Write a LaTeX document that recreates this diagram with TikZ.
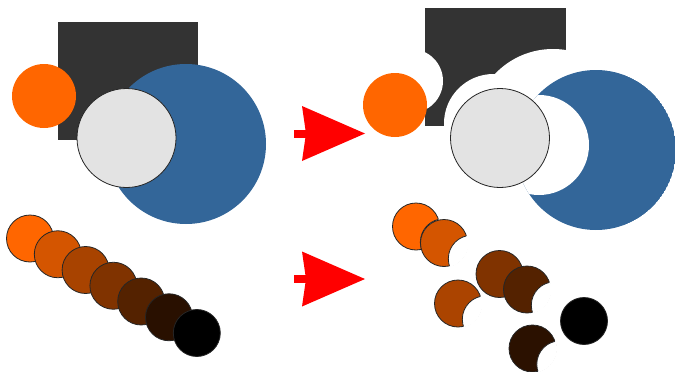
\documentclass[tikz,border=0pt]{standalone}
\usetikzlibrary{arrows.meta}
\definecolor{inkdark}{HTML}{333333}
\definecolor{inkorange}{HTML}{FF6600}
\definecolor{inkblue}{HTML}{336699}
\definecolor{inkgray}{HTML}{E3E3E3}
\begin{document}
\begin{tikzpicture}[x=1pt, y=-1pt,
		outlined/.style={draw=black!85, line width=0.8pt},
		bigarrow/.style={red, line width=8pt, -{Stealth[length=63pt, width=55pt, inset=4pt, line width=0pt]}}]
	\useasboundingbox (0,0) rectangle (675,372);

	% Original stack
	\fill[inkdark] (58,22) rectangle (198,140);
	\fill[inkorange] (44,96) circle (32pt);
	\fill[inkblue] (186,144) circle (80pt);
	\draw[outlined, fill=inkgray] (126.5,138) circle (49.5pt);

	% Original chain of beads
	\foreach \i in {0,...,6} {
		\pgfmathtruncatemacro{\pct}{100-100*\i/6}
		\draw[outlined, fill=inkorange!\pct!black] (30+27.8*\i, 238.5+15.75*\i) circle (23.5pt);
	}

	% Arrows
	\coordinate (topfrom) at (294,133.5);
	\coordinate (topto) at (365,133.5);
	\draw[bigarrow] (topfrom) -- (topto);
	\coordinate (lowfrom) at (294,279);
	\coordinate (lowto) at (365,279);
	\draw[bigarrow] (lowfrom) -- (lowto);

	% Knocked-out rectangle
	\begin{scope}
		\clip (425,7.5) rectangle (566,126);
		\fill[inkdark] (425,7.5) rectangle (566,126);
		\fill[white] (411,81) circle (32pt) (553,129) circle (80pt) (493.5,123.5) circle (49.5pt);
	\end{scope}

	% Knocked-out circles
	\fill[inkorange] (395,105) circle (32pt);
	\begin{scope}
		\clip (596,150) circle (80pt);
		\fill[inkblue] (596,150) circle (80pt);
		\fill[white] (539,145) circle (50pt);
	\end{scope}
	\draw[outlined, fill=inkgray] (500,138) circle (49.5pt);

	% Knocked-out beads
	\foreach \bx/\by/\pct in {416/226.5/100, 444/243/83, 458/303.5/67, 499.5/274/50, 527/289.5/33, 532.5/348.5/17} {
		\draw[outlined, fill=inkorange!\pct!black] (\bx,\by) circle (23.5pt);
		\begin{scope}
			\clip (\bx,\by) circle (24.5pt);
			\fill[white] (\bx+27.8,\by+15.75) circle (23.5pt);
		\end{scope}
		\begin{scope}
			\clip (\bx,\by) circle (23.5pt);
			\draw[outlined] (\bx+27.8,\by+15.75) circle (23.5pt);
		\end{scope}
	}
	\draw[outlined, fill=black] (584,321) circle (23.5pt);
\end{tikzpicture}
\end{document}
